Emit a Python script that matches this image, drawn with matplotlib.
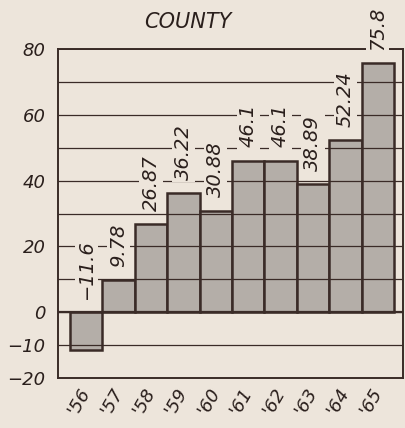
import matplotlib.pyplot as plt
import matplotlib.transforms as mtransforms
import numpy as np

# data
years = ["'56", "'57", "'58", "'59", "'60", "'61", "'62", "'63", "'64", "'65"]
values = [-11.6, 9.78, 26.87, 36.22, 30.88, 46.1, 46.1, 38.89, 52.24, 75.8]
value_labels = ["−11.6", "9.78", "26.87", "36.22", "30.88", "46.1", "46.1", "38.89", "52.24", "75.8"]
ytick_vals = [80, 60, 40, 20, 0, -10, -20]
ytick_labels = ["80", "60", "40", "20", "0", "−10", "−20"]

bg = "#ede5db"
ink = "#3a2b27"
bar_fill = "#b4aea8"

fig = plt.figure(figsize=(4.06, 4.28), dpi=100, facecolor=bg)
ax = fig.add_axes([58 / 406, 50 / 428, 345 / 406, 329 / 428], facecolor=bg)

x = np.arange(len(years))
ax.bar(x, values, width=1.0, color=bar_fill, edgecolor=ink, linewidth=1.8, zorder=2)

# hand-ruled grid every 10 units, drawn over the bars
for yv in np.arange(-10, 80, 10):
    ax.axhline(yv, color=ink, linewidth=0.9, zorder=3)
ax.axhline(80, color=ink, linewidth=1.2, zorder=3)
ax.axhline(0, color=ink, linewidth=1.6, zorder=3)

# value labels, written vertically above each bar
for xi, v, lab in zip(x, values, value_labels):
    ax.text(xi, max(v, 0) + 4, lab, rotation=90, ha="center", va="bottom",
            fontsize=14, style="italic", color="#2a1f1c", clip_on=False, zorder=4,
            bbox=dict(facecolor=bg, edgecolor="none", pad=1.5))

ax.set_xlim(-0.87, 9.78)
ax.set_ylim(-20, 80)

ax.set_yticks(ytick_vals)
ax.set_yticklabels(ytick_labels, fontsize=13, style="italic", color="#2a1f1c")
ax.set_xticks(x)
ax.set_xticklabels(years, fontsize=13, style="italic", color="#2a1f1c",
                   rotation=60, ha="right", va="center", rotation_mode="anchor")
offset = mtransforms.ScaledTranslation(9 / 100, -5 / 100, fig.dpi_scale_trans)
for t in ax.get_xticklabels():
    t.set_transform(t.get_transform() + offset)

ax.tick_params(length=0, pad=9)
ax.tick_params(axis="x", pad=8)
for s in ax.spines.values():
    s.set_color(ink)
    s.set_linewidth(1.4)

fig.text(188 / 406, 1 - 22 / 428, "COUNTY", ha="center", va="center",
         fontsize=15, style="italic", color="#2a1f1c")

fig.savefig("out.png", dpi=100, facecolor=bg)
